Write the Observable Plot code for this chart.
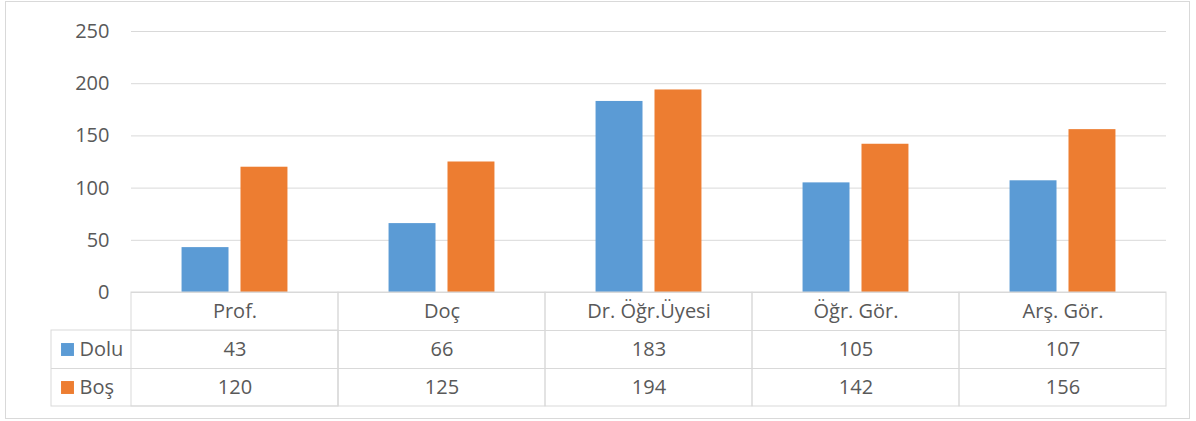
<!DOCTYPE html>
<html><head><meta charset="utf-8">
<script src="https://cdn.jsdelivr.net/npm/d3@7"></script>
<script src="https://cdn.jsdelivr.net/npm/@observablehq/plot@0.6"></script>
<style>
body{margin:0;background:#fff;}
#wrap{position:relative;width:1196px;height:421px;overflow:hidden;}
#border{position:absolute;left:5px;top:1px;width:1183px;height:416px;border:1px solid #d9d9d9;pointer-events:none;}
</style></head><body>
<div id="wrap"><div id="chart"></div><div id="border"></div></div>
<script>
const categories = ["Prof.", "Doç", "Dr. Öğr.Üyesi", "Öğr. Gör.", "Arş. Gör."];
const seriesNames = ["Dolu", "Boş"];
const dolu = [43, 66, 183, 105, 107];
const bos = [120, 125, 194, 142, 156];
const yTicks = [0, 50, 100, 150, 200, 250];
const colors = ["#5B9BD5", "#ED7D31"];

const seriesValues = [dolu, bos];
const rows = categories.flatMap((c, i) => seriesNames.map((s, k) => ({cat: c, series: s, value: seriesValues[k][i]})));

const rowH = 38;
const textShift = 6;
const grid = "#d9d9d9";
const first = () => categories[0];

const marks = [
  Plot.gridY(yTicks, {stroke: grid, strokeOpacity: 1}),
  Plot.axisY(yTicks, {tickSize: 0, tickPadding: 22, label: null}),
  Plot.barY(rows, {fx: "cat", x: "series", y: "value", fill: "series"}),
  // data table: header row with categories
  Plot.text(categories, {fx: d => d, text: d => d, frameAnchor: "bottom", dy: rowH / 2 + textShift}),
  // table cells outline per category column
  Plot.barY([0], {y1: 0, y2: 0, insetBottom: -3 * rowH, fill: "none", stroke: grid}),
  Plot.ruleY([0], {dy: rowH, stroke: grid}),
  Plot.ruleY([0], {dy: 2 * rowH, stroke: grid}),
  // legend column (left of first category)
  Plot.barY([0], {fx: first, y1: 0, y2: 0, insetTop: rowH, insetBottom: -3 * rowH, insetLeft: -80, fill: "none", stroke: grid}),
  Plot.ruleY([0], {fx: first, dy: 2 * rowH, insetLeft: -80, stroke: grid})
];

seriesNames.forEach((s, k) => {
  const dy = rowH * (k + 1) + rowH / 2;
  marks.push(
    Plot.text(seriesValues[k], {fx: (d, j) => categories[j], text: d => String(d), frameAnchor: "bottom", dy: dy + textShift}),
    Plot.dot([s], {fx: first, frameAnchor: "bottom-left", symbol: "square", r: 7.3, fill: d => d, stroke: null, dx: -64, dy}),
    Plot.text([s], {fx: first, frameAnchor: "bottom-left", text: d => d, textAnchor: "start", dx: -52, dy: dy + textShift})
  );
});

const chart = Plot.plot({
  width: 1196,
  height: 421,
  marginLeft: 130,
  marginRight: 30,
  marginTop: 31,
  marginBottom: 129,
  style: {fontFamily: "'Open Sans', sans-serif", fontSize: "20px", color: "#595959", background: "transparent"},
  fx: {domain: categories, padding: 0, axis: null},
  x: {domain: seriesNames, paddingInner: 0.2034, paddingOuter: 0.8576, round: false, axis: null},
  y: {domain: [0, 250], axis: null},
  color: {domain: seriesNames, range: colors},
  marks
});
document.getElementById("chart").appendChild(chart);
</script>
</body></html>
